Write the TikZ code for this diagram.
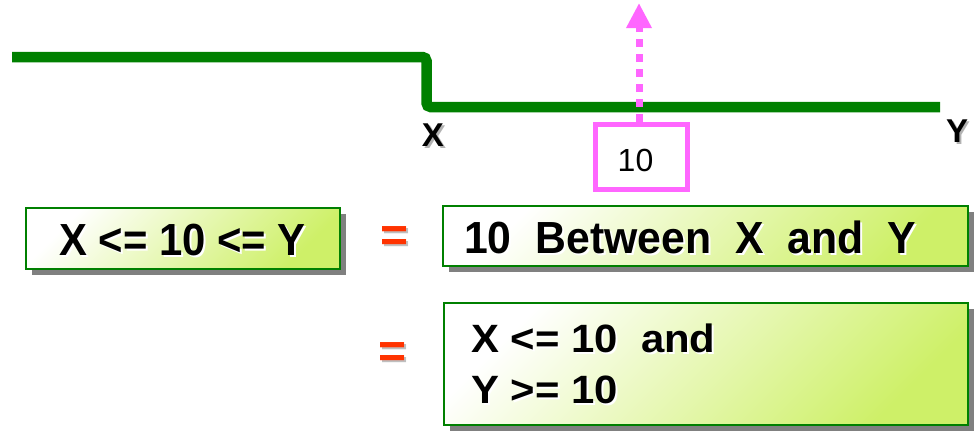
\documentclass[tikz,border=0pt]{standalone}
\usepackage{fontspec}
\setmainfont{Liberation Sans}
\newfontfamily\fontA[FakeStretch=0.93]{Liberation Sans}
\newfontfamily\fontB[FakeStretch=0.95]{Liberation Sans}
\newfontfamily\fontC[FakeStretch=1.06]{Liberation Sans}
\usetikzlibrary{arrows.meta,shadows}
\definecolor{lgreen}{RGB}{0,128,0}
\definecolor{boxline}{RGB}{0,128,0}
\definecolor{boxgreen}{RGB}{206,240,104}
\definecolor{pinkc}{RGB}{255,102,255}
\definecolor{eqred}{RGB}{255,51,0}
\begin{document}
\begin{tikzpicture}[x=1pt,y=-1pt,
  greenline/.style={draw=lgreen, line width=10.5pt, rounded corners=4pt},
  eqbox/.style={draw=boxline, line width=2pt, top color=white, bottom color=boxgreen, shading angle=45,
    drop shadow={shadow xshift=6pt, shadow yshift=-6pt, fill=black!50, opacity=1}, inner sep=0pt},
  txtA/.style={font=\fontA\fontsize{45pt}{50pt}\selectfont\bfseries, inner sep=0pt, text=black},
  txtB/.style={font=\fontB\fontsize{45pt}{50pt}\selectfont\bfseries, inner sep=0pt, text=black},
  txtC/.style={font=\fontC\fontsize{39.5pt}{50pt}\selectfont\bfseries, inner sep=0pt, text=black},
  halo/.style={text=white},
  eqsign/.style={font=\fontsize{48pt}{50pt}\selectfont\bfseries, inner sep=0pt, text=eqred},
  eqshadow/.style={font=\fontsize{48pt}{50pt}\selectfont\bfseries, inner sep=0pt, text=black!25},
  axlabel/.style={font=\fontsize{33pt}{36pt}\selectfont\bfseries, inner sep=0pt, text=black},
  axshadow/.style={font=\fontsize{33pt}{36pt}\selectfont\bfseries, inner sep=0pt, text=black!30},
  pinkbox/.style={draw=pinkc, line width=5pt, minimum width=92pt, minimum height=65pt, inner sep=0pt, fill=white},
  pinkarrow/.style={draw=pinkc, line width=7pt, dash pattern=on 8pt off 7pt,
    -{Triangle[width=24pt,length=25pt,fill=pinkc]}}
]
\useasboundingbox (0,0) rectangle (977,431);

% green step line
\coordinate (L0) at (12,57);
\coordinate (L1) at (426.5,57);
\coordinate (L2) at (426.5,107);
\coordinate (L3) at (940,107);
\draw[greenline] (L0) -- (L1) -- (L2) -- (L3);

% axis labels
\node[axshadow] (xs) at (435,137) {X};
\node[axlabel] (xl) at (433,135) {X};
\node[axshadow] (ys) at (959,133) {Y};
\node[axlabel] (yl) at (957,131) {Y};

% pink box and arrow
\node[pinkbox] (ten) at (641.5,157) {};
\node[font=\fontsize{32pt}{36pt}\selectfont, inner sep=0pt] (tentxt) at (635.5,160) {10};
\coordinate (tip) at (639,3);
\draw[pinkarrow] (ten.north -| tip) -- (tip);

% boxes
\node[eqbox, minimum width=314pt, minimum height=61pt] (b1) at (183,238.5) {};
\node[eqbox, minimum width=525pt, minimum height=60pt] (b2) at (705.5,236) {};
\node[eqbox, minimum width=524pt, minimum height=122pt] (b3) at (706,364) {};

% box texts
\node[txtA, halo, anchor=base] (t1s) at (184.5,257) {X <= 10 <= Y};
\node[txtA, anchor=base] (t1) at (182.5,255) {X <= 10 <= Y};
\node[txtB, halo, anchor=base west] (t2s) at (466,255) {10\ \ Between\ \ X\ \ and\ \ Y};
\node[txtB, anchor=base west] (t2) at (464,253) {10\ \ Between\ \ X\ \ and\ \ Y};
\node[txtC, halo, anchor=base west] (t3s) at (473,354) {X <= 10\ \ and};
\node[txtC, anchor=base west] (t3) at (471,352) {X <= 10\ \ and};
\node[txtC, halo, anchor=base west] (t4s) at (473,405) {Y >= 10};
\node[txtC, anchor=base west] (t4) at (471,403) {Y >= 10};

% equals signs
\node[eqshadow] (e1s) at (397,241) {=};
\node[eqsign] (e1) at (395,239) {=};
\node[eqshadow] (e2s) at (395,357) {=};
\node[eqsign] (e2) at (393,355) {=};
\end{tikzpicture}
\end{document}
